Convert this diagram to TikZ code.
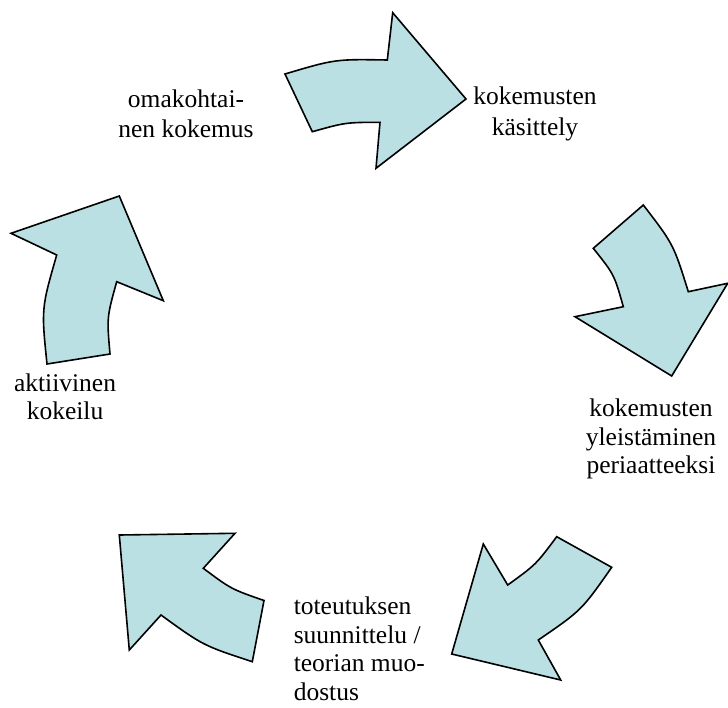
\documentclass[tikz,border=0pt]{standalone}
\usepackage{fontspec}
\setmainfont{Liberation Serif}
\usepackage{tikz}
\usetikzlibrary{positioning}
\definecolor{arrowBlue}{RGB}{187,224,227}

\begin{document}
\begin{tikzpicture}[x=1pt, y=-1pt, line width=1.6pt, inner sep=0pt]
			\tikzset{blockarrow/.style={draw=black,fill=arrowBlue,line join=miter}}
			\tikzset{lbl/.style={font=\fontsize{25.5}{28.5}\selectfont,text=black,align=center}}
			\useasboundingbox (0,0) rectangle (728,707);

			% Arrows, clockwise from the top
			\path[blockarrow] (387.3,60) .. controls (335.1,59.1) .. (285,74) -- (312.3,131.7)
				.. controls (345.6,122.4) .. (380,122.3) -- (376,168.3) -- (466,99) -- (392.7,12.7) -- cycle;
			\path[blockarrow] (688.3,291.7) .. controls (673.5,244.3) .. (643.3,205) -- (593.3,248.3)
				.. controls (614.2,274.5) .. (623.3,306.7) -- (575,316.7) -- (671.7,376) -- (727.7,283.3) -- cycle;
			\path[blockarrow] (611.7,567.3) .. controls (581.6,610.3) .. (538.3,640) -- (560.7,680)
				-- (451.7,654) -- (483.3,544) -- (507.7,585) .. controls (535.9,564.6) .. (556.7,536.7) -- cycle;
			\path[blockarrow] (203.3,568.3) .. controls (231.2,589.1) .. (264,600.5) -- (252.3,661.7)
				.. controls (203,645.5) .. (161,615) -- (129.3,650) -- (119.3,535) -- (235,533.3) -- cycle;
			\path[blockarrow] (56.7,255) .. controls (41.3,308.6) .. (47,364) -- (110,354)
				.. controls (106.8,317.3) .. (116.7,281.7) -- (163.3,300.7) -- (119.3,196) -- (11,233.3) -- cycle;

			% Labels
			\node[lbl] (s1) at (186,114) {omakohtai-\\[2pt]nen kokemus};
			\node[lbl] (s2) at (535,114) {kokemusten\\[2pt]käsittely};
			\node[lbl] (s3) at (651,439) {kokemusten\\yleistäminen\\periaatteeksi};
			\node[lbl, align=left, anchor=west] (s4) at (293,648.7) {toteutuksen\\suunnittelu /\\teorian muo-\\dostus};
			\node[lbl] (s5) at (65,397) {aktiivinen\\kokeilu};
\end{tikzpicture}
\end{document}
